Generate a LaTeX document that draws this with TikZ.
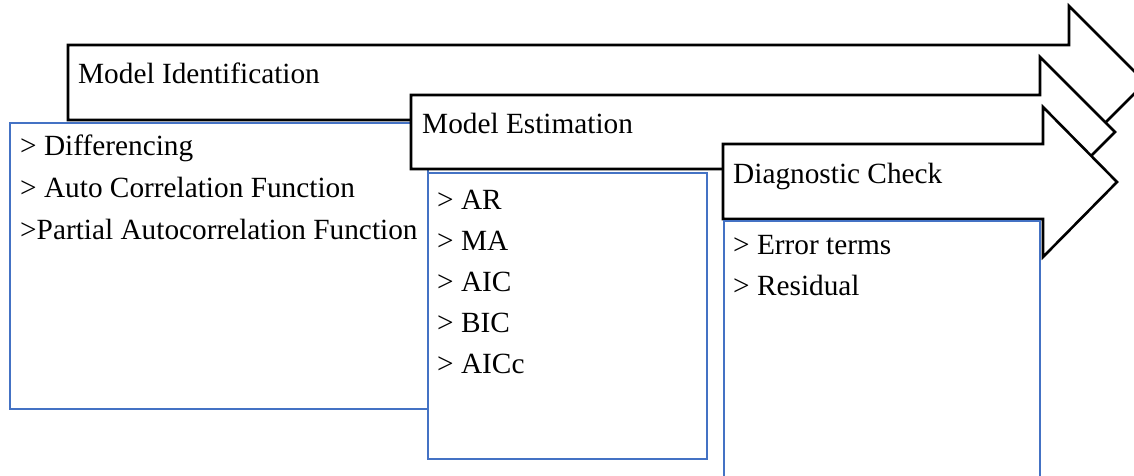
\documentclass[tikz,border=0pt]{standalone}
\usepackage{fontspec}
\setmainfont{Liberation Serif}
\definecolor{boxblue}{HTML}{4472C4}
\begin{document}
\begin{tikzpicture}[x=1pt,y=-1pt,
  stage/.style={draw=black,fill=white,line width=2.6pt,line join=miter},
  panel/.style={draw=boxblue,fill=white,line width=2.3pt},
  label/.style={anchor=base west,inner sep=0pt,font=\fontsize{29.3}{35}\selectfont},
]
\useasboundingbox (0,0) rectangle (1134,475);

% stage 1: identification
\draw[stage] (68,45) -- (1069,45) -- (1069,6) -- (1145.5,82.5) -- (1069,159) -- (1069,120) -- (68,120) -- cycle;
\node[label] (ident) at (78,83) {Model Identification};
\draw[panel] (10,123) rectangle (428,409);
\node[label] (diff) at (20,155) {> Differencing};
\node[label] (acf) at (20,197) {> Auto Correlation Function};
\node[label] (pacf) at (20,239) {>Partial Autocorrelation Function};

% stage 2: estimation
\draw[stage] (411,95) -- (1040,95) -- (1040,57) -- (1115,132) -- (1040,207) -- (1040,169) -- (411,169) -- cycle;
\node[label] (estim) at (422,133) {Model Estimation};
\draw[panel] (428,173) rectangle (707,459);
\node[label] (ar) at (437,209) {> AR};
\node[label] (ma) at (437,250) {> MA};
\node[label] (aic) at (437,291) {> AIC};
\node[label] (bic) at (437,332) {> BIC};
\node[label] (aicc) at (437,373) {> AICc};

% stage 3: diagnostics
\draw[stage] (723,144) -- (1043,144) -- (1043,107) -- (1117,182) -- (1043,257) -- (1043,219) -- (723,219) -- cycle;
\node[label] (diag) at (733,183) {Diagnostic Check};
\draw[panel] (724,221) rectangle (1040,495);
\node[label] (err) at (733,254) {> Error terms};
\node[label] (resid) at (733,295) {> Residual};
\end{tikzpicture}
\end{document}
